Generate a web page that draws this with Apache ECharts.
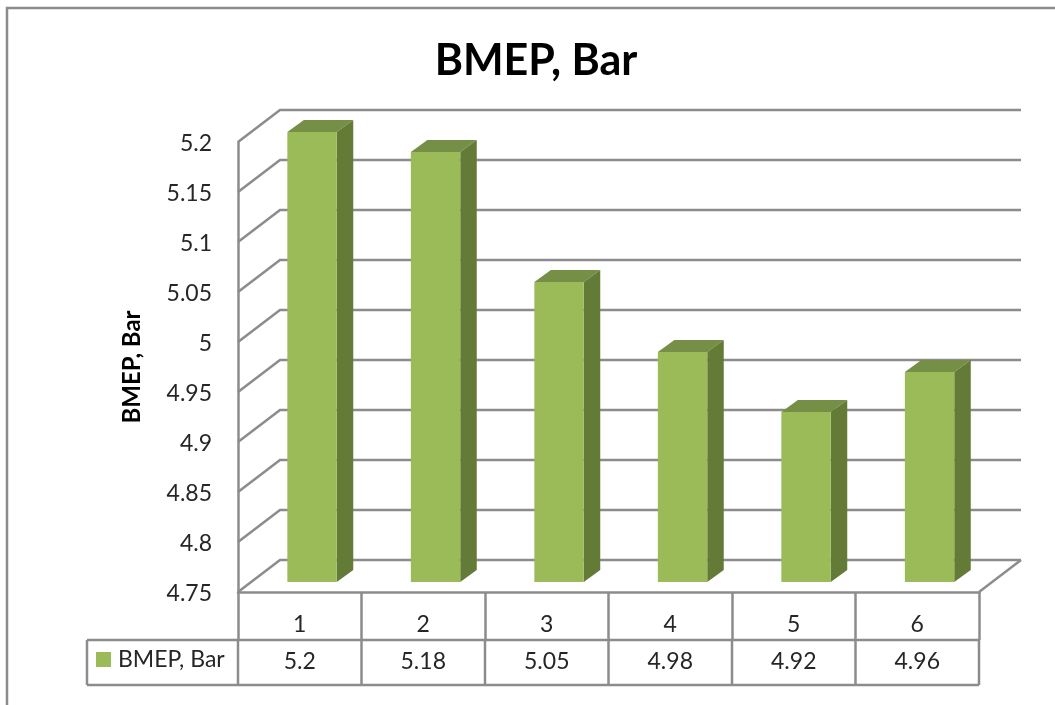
<!DOCTYPE html>
<html>
<head>
<meta charset="utf-8">
<style>html,body{margin:0;padding:0;background:#fff}#chart{width:1055px;height:705px}</style>
<script src="https://cdn.jsdelivr.net/npm/echarts@6/dist/echarts.min.js"></script>
</head>
<body>
<div id="chart"></div>
<script>
// BMEP per test run, drawn as a pseudo-3D column chart with a data table below it.
const categories = ['1', '2', '3', '4', '5', '6'];
const bmepValues = [5.2, 5.18, 5.05, 4.98, 4.92, 4.96];
const seriesName = 'BMEP, Bar';
const gridValues = [4.75, 4.8, 4.85, 4.9, 4.95, 5, 5.05, 5.1, 5.15, 5.2];

const FONT = 'Lato, sans-serif';
const LINE = '#8c8c8c';
const LINE_W = 2.5;
const TEXT = '#262626';
const LABEL_SIZE = 23;
const WALL_DX = 42, WALL_DY = -32;       // depth of the chart box
const BAR_SHIFT_DX = 12.3, BAR_SHIFT_DY = -10; // bars stand inside the box
const BAR_DX = 16.5, BAR_DY = -12;       // depth of a bar
const BAR_RATIO = 0.4;
const ROW1 = 48, ROW2 = 45;              // data table row heights
const TABLE_LEFT = 87;

const chart = echarts.init(document.getElementById('chart'), null, { renderer: 'canvas' });

function renderWall(params, api) {
  const cs = params.coordSys;
  const y = api.coord([0, api.value(1)])[1];
  return {
    type: 'polyline',
    shape: { points: [[cs.x, y], [cs.x + WALL_DX, y + WALL_DY], [cs.x + cs.width + WALL_DX, y + WALL_DY]] },
    style: { fill: null, stroke: LINE, lineWidth: LINE_W },
    silent: true
  };
}

function renderFloorEdge(params, api) {
  const cs = params.coordSys;
  const y = api.coord([0, api.value(1)])[1];
  const r = cs.x + cs.width;
  return {
    type: 'line',
    shape: { x1: r, y1: y, x2: r + WALL_DX, y2: y + WALL_DY },
    style: { stroke: LINE, lineWidth: LINE_W },
    silent: true
  };
}

function renderBar(params, api) {
  const i = api.value(0);
  const top = api.coord([i, api.value(1)]);
  const base = api.coord([i, gridValues[0]]);
  const w = api.size([1, 0])[0] * BAR_RATIO;
  const x0 = top[0] - w / 2 + BAR_SHIFT_DX, x1 = x0 + w;
  const yt = top[1] + BAR_SHIFT_DY, yb = base[1] + BAR_SHIFT_DY;
  return {
    type: 'group',
    children: [
      { type: 'polygon', shape: { points: [[x0, yt], [x1, yt], [x1 + BAR_DX, yt + BAR_DY], [x0 + BAR_DX, yt + BAR_DY]] },
        style: { fill: '#768F46' } },
      { type: 'polygon', shape: { points: [[x1, yt], [x1 + BAR_DX, yt + BAR_DY], [x1 + BAR_DX, yb + BAR_DY], [x1, yb]] },
        style: { fill: '#647A37' } },
      { type: 'rect', shape: { x: x0, y: yt, width: w, height: yb - yt },
        style: { fill: '#9BBB59' } }
    ]
  };
}

// Value row of the data table, one cell per category
function renderCell(params, api) {
  const i = api.value(0);
  const cs = params.coordSys;
  const bottom = cs.y + cs.height;
  const c = api.coord([i, gridValues[0]]);
  const band = api.size([1, 0])[0];
  const yTop = bottom + ROW1, yBot = yTop + ROW2;
  const stroke = { stroke: LINE, lineWidth: LINE_W };
  const children = [
    { type: 'line', shape: { x1: c[0] + band / 2, y1: yTop, x2: c[0] + band / 2, y2: yBot }, style: stroke },
    { type: 'text', style: { text: String(api.value(1)), x: c[0], y: yTop + ROW2 / 2 - 1, align: 'center', verticalAlign: 'middle',
        fill: TEXT, font: LABEL_SIZE + 'px ' + FONT } }
  ];
  if (i === 0) {
    children.push(
      { type: 'line', shape: { x1: TABLE_LEFT, y1: yTop, x2: cs.x + cs.width, y2: yTop }, style: stroke },
      { type: 'line', shape: { x1: TABLE_LEFT, y1: yBot, x2: cs.x + cs.width, y2: yBot }, style: stroke },
      { type: 'line', shape: { x1: TABLE_LEFT, y1: yTop, x2: TABLE_LEFT, y2: yBot }, style: stroke },
      { type: 'line', shape: { x1: cs.x, y1: yTop, x2: cs.x, y2: yBot }, style: stroke }
    );
  }
  return { type: 'group', children };
}

chart.setOption({
  animation: false,
  backgroundColor: '#fff',
  title: {
    text: 'BMEP, Bar', left: 531, top: 35, textAlign: 'center',
    textStyle: { fontFamily: FONT, fontSize: 43, fontWeight: 'bold', color: '#000' }
  },
  legend: {
    data: [seriesName], left: 96, top: 648, icon: 'rect', itemWidth: 15, itemHeight: 15, itemGap: 0,
    padding: 0, selectedMode: false,
    textStyle: { fontFamily: FONT, fontSize: LABEL_SIZE, color: TEXT, padding: [0, 0, 0, 2] }
  },
  graphic: [{
    type: 'rect', z: -10, silent: true,
    shape: { x: 7, y: 8, width: 1200, height: 900 },
    style: { fill: null, stroke: '#8c8c8c', lineWidth: 2.5 }
  }],
  grid: { left: 238, top: 142, width: 741, height: 450, containLabel: false },
  xAxis: {
    type: 'category', data: categories, position: 'bottom',
    axisLine: { show: true, onZero: false, lineStyle: { color: LINE, width: LINE_W } },
    axisTick: { show: true, length: ROW1, lineStyle: { color: LINE, width: LINE_W } },
    axisLabel: { margin: 21, fontFamily: FONT, fontSize: LABEL_SIZE, color: TEXT },
    splitLine: { show: false }
  },
  yAxis: {
    type: 'value', min: 4.75, max: 5.2, interval: 0.05,
    name: seriesName, nameLocation: 'middle', nameGap: 94, nameRotate: 90,
    nameTextStyle: { fontFamily: FONT, fontSize: 24, fontWeight: 'bold', color: '#000' },
    axisLine: { show: true, onZero: false, lineStyle: { color: LINE, width: LINE_W } },
    axisTick: { show: false },
    axisLabel: {
      margin: 26, fontFamily: FONT, fontSize: LABEL_SIZE, color: TEXT,
      verticalAlign: 'top', lineHeight: 4,
      formatter: v => String(Math.round(v * 100) / 100)
    },
    splitLine: { show: false }
  },
  series: [
    { type: 'custom', name: 'walls', silent: true, z: 1, clip: false, renderItem: renderWall,
      encode: { x: 0, y: 1 }, data: gridValues.map(v => [0, v]) },
    { type: 'custom', name: 'floor', silent: true, z: 1, clip: false, renderItem: renderFloorEdge,
      encode: { x: 0, y: 1 }, data: [[0, gridValues[0]]] },
    { type: 'custom', name: seriesName, z: 2, clip: false, renderItem: renderBar,
      itemStyle: { color: '#9BBB59' },
      encode: { x: 0, y: 1 }, data: bmepValues.map((v, i) => [i, v]) },
    { type: 'custom', name: 'table', silent: true, z: 3, clip: false, renderItem: renderCell,
      encode: { x: 0, y: 1 }, data: bmepValues.map((v, i) => [i, v]) }
  ]
});
</script>
</body>
</html>
